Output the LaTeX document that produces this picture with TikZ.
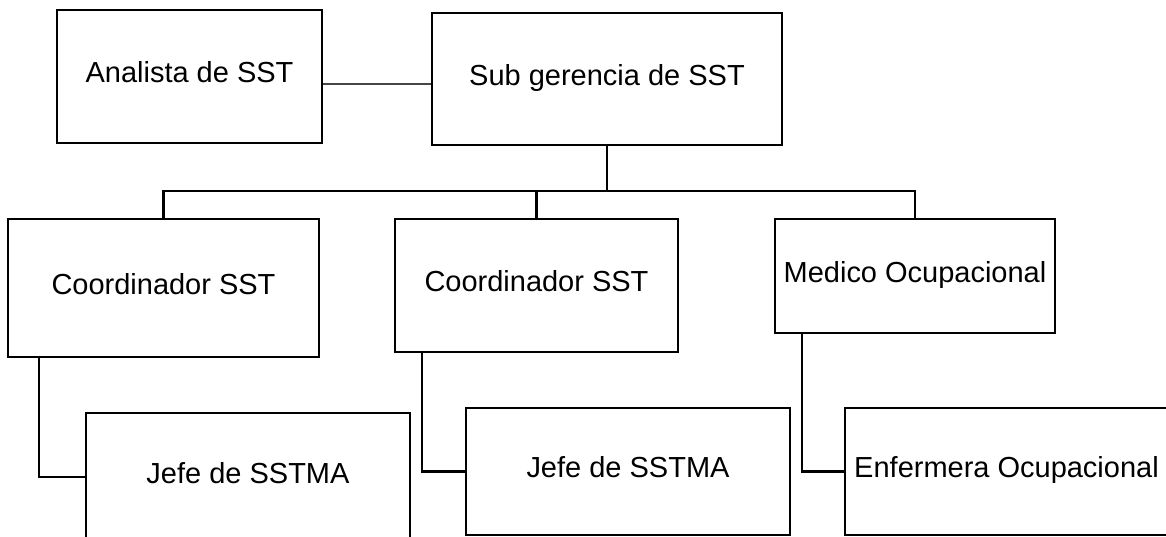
\documentclass[tikz,border=0pt]{standalone}
\usepackage{fontspec}
\setmainfont{Liberation Sans}
\usepackage{xcolor}
\usepackage{tikz}
\definecolor{sstgray}{RGB}{70, 70, 70}
\usetikzlibrary{positioning}

\begin{document}
\begin{tikzpicture}[x=0.02cm, y=-0.02cm,
    box/.style={draw, line width=1.25pt, inner sep=0pt, font=\fontsize{16.5}{20}\selectfont, text height=0.716em, text depth=0pt},
    link/.style={line width=1.25pt}]
    \useasboundingbox (0,0) rectangle (1166,537);
    \clip (0,0) rectangle (1166,537);
    \node[box, minimum width=5.30cm, minimum height=2.66cm] (analista) at (189.5,76.5) {Analista de SST};
    \node[box, minimum width=7.00cm, minimum height=2.64cm] (subger) at (607,79) {Sub gerencia de SST};
    \node[box, minimum width=6.22cm, minimum height=2.76cm] (coordA) at (163.5,288) {Coordinador SST};
    \node[box, minimum width=5.66cm, minimum height=2.66cm] (coordB) at (536.5,285.5) {Coordinador SST};
    \node[box, minimum width=5.60cm, minimum height=2.28cm] (medico) at (915,276) {Medico Ocupacional};
    \node[box, minimum width=6.48cm, minimum height=2.56cm] (jefeA) at (248,477) {Jefe de SSTMA};
    \node[box, minimum width=6.48cm, minimum height=2.54cm] (jefeB) at (628,471.5) {Jefe de SSTMA};
    \node[box, minimum width=6.46cm, minimum height=2.54cm] (enfermera) at (1006.5,471.5) {Enfermera Ocupacional};
    \coordinate (bus) at (607,191);
    \draw[line width=0.6pt, sstgray] ([yshift=-0.15cm]analista.east) -- ([yshift=-0.15cm]analista.east -| subger.west);
    \draw[link] (subger.south) -- (bus);
    \foreach \n in {coordA, coordB, medico}
        \draw[link] (bus) -| (\n.north);
    \draw[link] ([xshift=0.64cm]coordA.south west) |- (jefeA.west);
    \draw[link] ([xshift=0.56cm]coordB.south west) |- (jefeB.west);
    \draw[link] ([xshift=0.56cm]medico.south west) |- (enfermera.west);
\end{tikzpicture}
\end{document}
